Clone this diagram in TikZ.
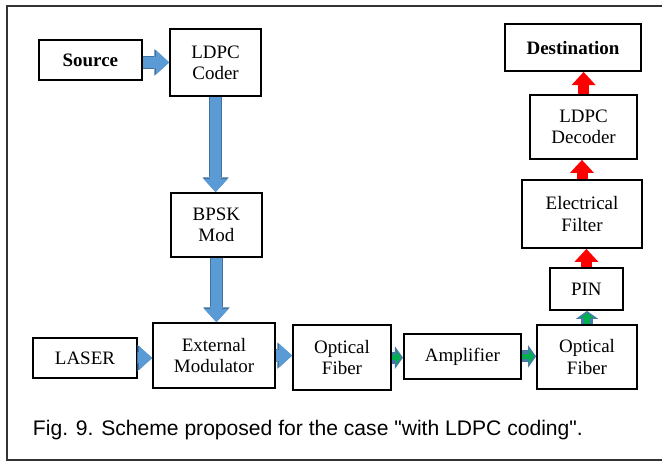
\documentclass[tikz,border=0pt]{standalone}
\usepackage{fontspec}
\setmainfont{Liberation Serif}
\newfontfamily\capfont{Liberation Sans}
\usepackage{tikz}
\usetikzlibrary{arrows.meta,positioning,calc}
\definecolor{fillblue}{HTML}{5B9BD5}
\definecolor{edgeblue}{HTML}{41719C}
\definecolor{fibgreen}{HTML}{00B050}
\tikzstyle{block}=[rectangle, draw=black, line width=1.3pt, inner sep=0pt, align=center, font=\rmfamily\fontsize{13.5}{15}\selectfont]
\tikzstyle{flow}=[draw=fillblue, line width=0.275cm, -{Triangle[length=0.325cm, width=0.6cm, line width=0pt]},
  preaction={draw=edgeblue, line width=0.32cm, -{Triangle[length=0.37cm, width=0.66cm, line width=0pt]}}]
\tikzstyle{redflow}=[draw=red, line width=0.275cm, -{Triangle[length=0.325cm, width=0.6cm, line width=0pt]}]
\tikzstyle{fibflow}=[draw=fibgreen, line width=0.14cm, shorten >=0.05cm, -{Triangle[length=0.13cm, width=0.36cm, line width=0pt]},
  preaction={draw=edgeblue!80!fillblue, line width=0.3cm, shorten >=0pt, -{Triangle[length=0.2cm, width=0.56cm, line width=0pt]}}]

\begin{document}
\begin{tikzpicture}
				\useasboundingbox (0,0) rectangle (16.55,11.55);
				\draw[black!80, line width=1.4pt] (16.7,11.4) -- (0.175,11.4) -- (0.175,0.05) -- (16.7,0.05);
				
				\node[block, minimum width=2.575cm, minimum height=1cm] (A) at (2.26,10.05) {\textbf{Source}};
				\node[block, minimum width=2.275cm, minimum height=1.675cm] (B) at (5.39,9.99) {LDPC\\Coder};
				\node[block, minimum width=2.275cm, minimum height=1.6cm] (C) at (5.41,5.925) {BPSK\\Mod};
				\node[block, minimum width=3.05cm, minimum height=1.625cm] (D) at (5.35,2.66) {External\\Modulator};
				\node[block, minimum width=2.6cm, minimum height=1cm] (E) at (2.125,2.6) {LASER};
				\node[block, minimum width=2.45cm, minimum height=1.625cm] (F) at (8.55,2.61) {Optical\\Fiber};
				\node[block, minimum width=2.925cm, minimum height=1.125cm] (G) at (11.56,2.64) {Amplifier};
				\node[block, minimum width=2.5cm, minimum height=1.6cm] (H) at (14.675,2.625) {Optical\\Fiber};
				\node[block, minimum width=1.825cm, minimum height=1.05cm] (I) at (14.66,4.325) {PIN};
				\node[block, minimum width=3cm, minimum height=1.7cm] (J) at (14.55,6.2) {Electrical\\Filter};
				\node[block, minimum width=2.675cm, minimum height=1.6cm] (K) at (14.59,8.375) {LDPC\\Decoder};
				\node[block, minimum width=3.4cm, minimum height=1.175cm] (L) at (14.325,10.36) {\textbf{Destination}};
				\node[anchor=base west, font=\capfont\fontsize{15}{18}\selectfont] (cap) at (0.7,0.675) {Fig. 9. Scheme proposed for the case "with LDPC coding".};
				
				\draw[flow](A.east |- B.west)--(B.west);
				\draw[flow](B.south)--(B.south |- C.north);
				\draw[flow](C.south)--(C.south |- D.north);
				\draw[flow](E.east)--(E.east -| D.west);
				\draw[flow](D.east)--(D.east -| F.west);
				\draw[fibflow](F.east)--(F.east -| G.west);
				\draw[fibflow](G.east)--(G.east -| H.west);
				\draw[fibflow](H.north)--(H.north |- I.south);
				\draw[redflow](I.north)--(I.north |- J.south);
				\draw[redflow](J.north)--(J.north |- K.south);
				\draw[redflow](K.north)--(K.north |- L.south);
			\end{tikzpicture}
\end{document}
